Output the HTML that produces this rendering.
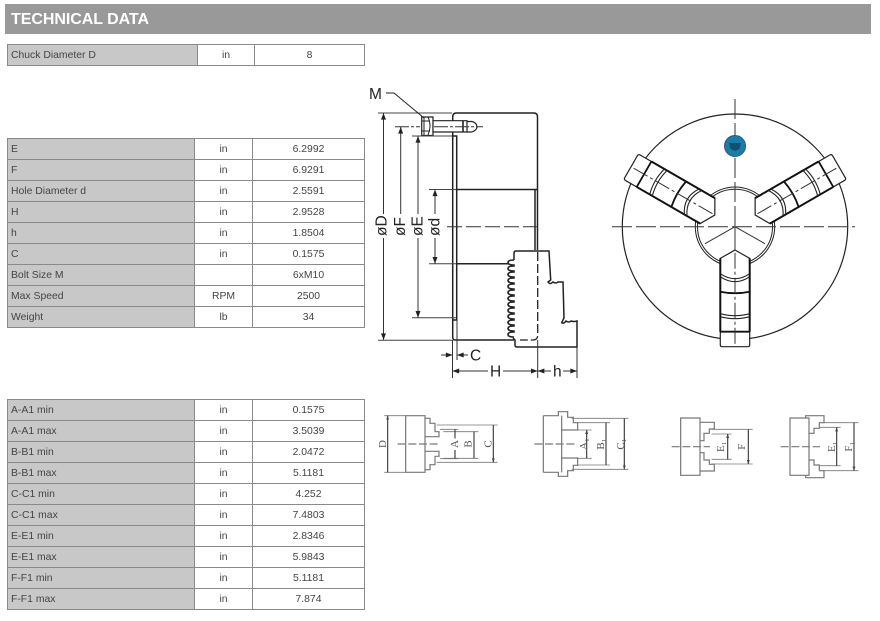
<!DOCTYPE html>
<html lang="en"><head><meta charset="utf-8"><title>Technical Data</title>
<style>
html,body{margin:0;padding:0;background:#fff}
body{position:relative;width:880px;height:621px;overflow:hidden;font-family:"Liberation Sans",Arial,sans-serif}
.hd{position:absolute;left:5px;top:4px;width:866px;height:30px;background:#999;color:#fff;font-weight:bold;font-size:16px;line-height:31px;padding-left:6px;box-sizing:border-box;letter-spacing:-.05px}
table{position:absolute;left:7px;border-collapse:collapse;table-layout:fixed;font-size:10.4px;color:#444;width:357px}
td{border:1px solid #8a8a8a;padding:2px 0 0 0;height:21px;box-sizing:border-box;text-align:center;line-height:18px;white-space:nowrap;overflow:hidden}
td:first-child{background:#c8c8c8;text-align:left;padding-left:3px}
svg{position:absolute;left:0;top:0}
</style></head><body>
<div class="hd">TECHNICAL DATA</div>
<table style="top:44px"><colgroup><col style="width:190px"><col style="width:57px"><col style="width:110px"></colgroup>
<tr><td>Chuck Diameter D</td><td>in</td><td>8</td></tr></table>
<table style="top:138px"><colgroup><col style="width:187px"><col style="width:58px"><col style="width:112px"></colgroup>
<tr><td>E</td><td>in</td><td>6.2992</td></tr>
<tr><td>F</td><td>in</td><td>6.9291</td></tr>
<tr><td>Hole Diameter d</td><td>in</td><td>2.5591</td></tr>
<tr><td>H</td><td>in</td><td>2.9528</td></tr>
<tr><td>h</td><td>in</td><td>1.8504</td></tr>
<tr><td>C</td><td>in</td><td>0.1575</td></tr>
<tr><td>Bolt Size M</td><td></td><td>6xM10</td></tr>
<tr><td>Max Speed</td><td>RPM</td><td>2500</td></tr>
<tr><td>Weight</td><td>lb</td><td>34</td></tr></table>
<table style="top:399px"><colgroup><col style="width:187px"><col style="width:58px"><col style="width:112px"></colgroup>
<tr><td>A-A1 min</td><td>in</td><td>0.1575</td></tr>
<tr><td>A-A1 max</td><td>in</td><td>3.5039</td></tr>
<tr><td>B-B1 min</td><td>in</td><td>2.0472</td></tr>
<tr><td>B-B1 max</td><td>in</td><td>5.1181</td></tr>
<tr><td>C-C1 min</td><td>in</td><td>4.252</td></tr>
<tr><td>C-C1 max</td><td>in</td><td>7.4803</td></tr>
<tr><td>E-E1 min</td><td>in</td><td>2.8346</td></tr>
<tr><td>E-E1 max</td><td>in</td><td>5.9843</td></tr>
<tr><td>F-F1 min</td><td>in</td><td>5.1181</td></tr>
<tr><td>F-F1 max</td><td>in</td><td>7.874</td></tr></table>

<svg width="880" height="621" viewBox="0 0 880 621" xmlns="http://www.w3.org/2000/svg">
<defs>
<marker id="a" viewBox="0 0 8 6" refX="8" refY="3" markerWidth="7" markerHeight="5" orient="auto-start-reverse" markerUnits="userSpaceOnUse"><path d="M0 0L8 3L0 6z" fill="#222"/></marker>
<marker id="s" viewBox="0 0 8 6" refX="8" refY="3" markerWidth="12" markerHeight="9" orient="auto-start-reverse" markerUnits="userSpaceOnUse"><path d="M0 0L8 3L0 6z" fill="#444"/></marker>
<filter id="b" x="-5%" y="-5%" width="110%" height="110%"><feGaussianBlur stdDeviation=".35"/></filter>
<g id="jaw">
<path d="M0 23.3L14.7 31.7V118Q14.7 120 12.7 120H-12.7Q-14.7 120-14.7 118V31.7Z" fill="#fff" stroke="#222" stroke-width="1.2"/>
<path d="M14.7 31.7V105M-14.7 31.7V105" fill="none" stroke="#111" stroke-width="2"/>
<path d="M-14.7 47Q0 57 14.7 47M-14.7 50Q0 60 14.7 50M-14.7 87Q0 91 14.7 87M-14.7 90Q0 94 14.7 90" fill="none" stroke="#222" stroke-width="1.1"/>
<path d="M-14.7 65Q0 68 14.7 65M-14.7 105H14.7" fill="none" stroke="#111" stroke-width="1.8"/>
<path d="M0 26V120" fill="none" stroke="#333" stroke-width="1" stroke-dasharray="16 3 3 3"/>
</g>
</defs>

<!-- side view -->
<g fill="none" stroke="#222" stroke-width="1.5">
<path d="M452.7 337Q452.7 340 455 340H514M452.7 337V117Q452.7 113 456 113H534Q537.5 113 537.5 117V189.500"/>
<path d="M452.7 136H456.700V320H452.700"/>
<path d="M457 189.500H537.500M535 189.500V250M537.500 189.500V250"/>
<path d="M457 263.700H508"/>
<path d="M514 260V253Q514 251 516 251H549L550.700 280L548 282Q550 285 553 282Q556 284 558 282H563L564 318L561.700 322.700Q564 324 566 321Q569 323 571 321Q574 322 577 321V347H517Q515 347 515 345V340L513 338"/>
<path d="M514 260Q508 260 508 262.500Q508 265 514 265V266Q508 266 508 268.500Q508 271 514 271V272Q508 272 508 274.500Q508 277 514 277V278Q508 278 508 280.500Q508 283 514 283V284Q508 284 508 286.500Q508 289 514 289V290Q508 290 508 292.500Q508 295 514 295V296Q508 296 508 298.500Q508 301 514 301V302Q508 302 508 304.500Q508 307 514 307V308Q508 308 508 310.500Q508 313 514 313V314Q508 314 508 316.500Q508 319 514 319V320Q508 320 508 322.500Q508 325 514 325V326Q508 326 508 328.500Q508 331 514 331V332Q508 332 508 334.500Q508 337 514 337" stroke-width="1.600"/>
<path d="M537.700 252V335Q537.700 340 533 340H520" stroke-dasharray="9 3" stroke-width="1.300"/>
</g>
<g fill="#fff" stroke="#222" stroke-width="1.2">
<path d="M421.700 117H433V135.500H421.700Z"/>
<path d="M433 120.700H467V132H433Z"/>
<path d="M467 121.500H472Q477 123 477 126.700Q477 130 472 132H467" fill="none"/>
<path d="M424 117V135M428 117Q432 126 428 135M421.700 121H430M421.700 131H430" fill="none" stroke-width="1"/>
<path d="M463 120.700V132" fill="none" stroke-width="1.600"/>
</g>
<g fill="none" stroke="#333" stroke-width="1">
<path d="M395 126.700H420M434 126.700H483" stroke-dasharray="14 2 3 2"/>
<path d="M447 226.700H542" stroke-dasharray="15 4"/>
<path d="M378 113H452M412 136H452M429 189.500H456M429 263.700H456M412 317.700H456M378 340.300H452" stroke="#444"/>
<path d="M386 93H394L424 118" stroke="#222"/>
<path d="M452.500 340V378M457 320V360M537.700 340V378M577 347V378"/>
</g>
<g fill="none" stroke="#333" stroke-width="1">
<path d="M383.500 214V113" marker-end="url(#a)"/><path d="M383.500 238V340" marker-end="url(#a)"/>
<path d="M400.700 214V127" marker-end="url(#a)"/>
<path d="M418 214V136" marker-end="url(#a)"/><path d="M418 238V317.700" marker-end="url(#a)"/>
<path d="M435 214V189.500" marker-end="url(#a)"/><path d="M435 238V263.700" marker-end="url(#a)"/>
<path d="M441 355H452.500" marker-end="url(#a)"/><path d="M468 355H457" marker-end="url(#a)"/>
<path d="M488 371H452.500" marker-end="url(#a)"/><path d="M503 371H537.700" marker-end="url(#a)"/>
<path d="M551 371H537.700" marker-end="url(#a)"/><path d="M563 371H577" marker-end="url(#a)"/>
</g>
<g font-family="'Liberation Sans',sans-serif" font-size="15.500" fill="#222">
<text x="369" y="99">M</text>
<text x="470" y="360.500">C</text>
<text x="490" y="376.500">H</text>
<text x="553" y="376.500">h</text>
<text transform="translate(386.500 236) rotate(-90)">øD</text>
<text transform="translate(405 236) rotate(-90)">øF</text>
<text transform="translate(422.500 236) rotate(-90)">øE</text>
<text transform="translate(439.500 236) rotate(-90)">ød</text>
</g>

<!-- front view -->
<circle cx="735" cy="226.700" r="112.700" fill="#fff" stroke="#222" stroke-width="1.200"/>
<circle cx="735" cy="226.700" r="39.700" fill="none" stroke="#222" stroke-width="1"/>
<circle cx="735" cy="226.700" r="37.500" fill="none" stroke="#222" stroke-width="1"/>
<path d="M735 99V135M735 158V226M612 226.700H855" fill="none" stroke="#333" stroke-width="1" stroke-dasharray="20 4"/>
<g transform="translate(735 226.700)">
<path d="M0 0L-30 17M0 0L30 17M0 0L0 24" stroke="#333" stroke-width="1" fill="none"/>
<use href="#jaw"/>
<use href="#jaw" transform="rotate(120)"/>
<use href="#jaw" transform="rotate(240)"/>
</g>
<circle cx="735" cy="146" r="10.500" fill="#1a7ca8" stroke="#2b5a72" stroke-width="1"/>
<path d="M729 143H741L739.500 149L735 151L730.500 149Z" fill="#12506f"/>

<!-- small diagrams -->
<g filter="url(#b)">
<g fill="none" stroke="#777" stroke-width="3.600">
<g transform="translate(375 400) scale(.33333)">
<path d="M92 47H150V217H92ZM150 55H165V70H180V95H192V110H150M150 209H165V194H180V169H192V154H150"/>
<path d="M68 132H190" stroke-dasharray="24 8"/>
<path d="M28 47H92M28 217H92M185 75H368M195 88H250M205 95H310M205 175H310M195 176H250M185 187H368" stroke-width="2.500"/>
<path d="M38 47V217M240 88V115M240 150V176M297 95V175M355 75V187" stroke="#444" marker-start="url(#s)" marker-end="url(#s)"/>
<path d="M505 47H550V35H578V52H595V68H608V90H560M505 217H550V229H578V212H595V196H608V174H560M505 47V217M560 47V217"/>
<path d="M478 132H600" stroke-dasharray="24 8"/>
<path d="M590 55H760M605 68H705M605 90H650M605 175H650M605 195H705M590 208H760" stroke-width="2.500"/>
<path d="M635 90V175M693 68V195M748 55V208" stroke="#444" marker-start="url(#s)" marker-end="url(#s)"/>
</g>
<g transform="translate(630 400) scale(.33333)">
<path d="M152 54H210V226H152ZM210 67H253V87H238V100H222V122H210M210 213H253V193H238V180H222V158H210"/>
<path d="M125 140H240" stroke-dasharray="24 8"/>
<path d="M245 88H368M245 102H305M245 178H305M245 192H368" stroke-width="2.500"/>
<path d="M293 102V178M355 88V192" stroke="#444" marker-start="url(#s)" marker-end="url(#s)"/>
<path d="M480 54H537V226H480ZM527 54V47H582V68H568V85H552V100H537M527 226V233H582V212H568V195H552V180H537"/>
<path d="M452 140H570" stroke-dasharray="24 8"/>
<path d="M580 68H685M570 82H632M570 197H632M580 212H685" stroke-width="2.500"/>
<path d="M620 82V197M672 68V212" stroke="#444" marker-start="url(#s)" marker-end="url(#s)"/>
</g>
</g>
<g font-family="'Liberation Serif',serif" font-size="11" fill="#555" text-anchor="middle">
<text transform="translate(386 444) rotate(-90)">D</text>
<text transform="translate(458 444) rotate(-90)">A</text>
<text transform="translate(471.500 444) rotate(-90)">B</text>
<text transform="translate(491.500 444) rotate(-90)">C</text>
<text transform="translate(587 444) rotate(-90)">A₁</text>
<text transform="translate(604 444) rotate(-90)">B₁</text>
<text transform="translate(624 444) rotate(-90)">C₁</text>
<text transform="translate(724 446.700) rotate(-90)">E₁</text>
<text transform="translate(745 446.700) rotate(-90)">F</text>
<text transform="translate(835 446.700) rotate(-90)">E₁</text>
<text transform="translate(852 446.700) rotate(-90)">F₁</text>
</g>
</g>
</svg>
</body></html>
